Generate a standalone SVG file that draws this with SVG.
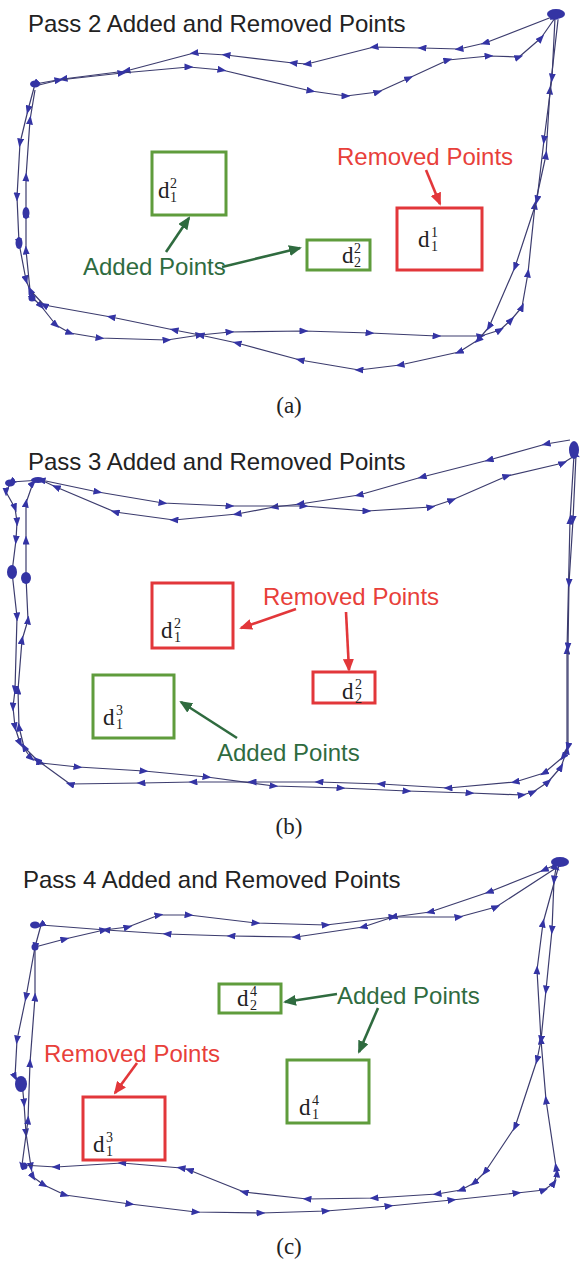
<svg xmlns="http://www.w3.org/2000/svg" width="581" height="1268" viewBox="0 0 581 1268">
<style>
.title{font-family:"Liberation Sans",Arial,sans-serif;font-size:24px;fill:#222}
.lab{font-family:"Liberation Sans",Arial,sans-serif;font-size:24px}
.red{fill:#e8403a}
.grn{fill:#2f6b3f}
.cap{font-family:"Liberation Serif","Times New Roman",serif;font-size:23px;fill:#222;text-anchor:middle}
.d{font-family:"Liberation Serif","Times New Roman",serif;font-size:23px;fill:#222}
.s{font-size:14px}
.trk{fill:none;stroke:#3c3c6e;stroke-width:1.2;stroke-linejoin:round;marker-mid:url(#t)}
.blob{fill:#3434a4}
.gbox{fill:none;stroke:#5f9c3c;stroke-width:3}
.rbox{fill:none;stroke:#e2373a;stroke-width:3}
.ga{stroke:#2f6b3f;stroke-width:2.6;fill:none;marker-end:url(#ag)}
.ra{stroke:#e2373a;stroke-width:2.6;fill:none;marker-end:url(#ar)}
</style>
<defs>
<marker id="t" viewBox="0 0 9 7" refX="4.5" refY="3.5" markerWidth="9" markerHeight="7" orient="auto" markerUnits="userSpaceOnUse"><path d="M0,0 L9,3.5 L0,7 z" fill="#3434a4"/></marker>
<marker id="ag" viewBox="0 0 13 11" refX="11" refY="5.5" markerWidth="13" markerHeight="11" orient="auto" markerUnits="userSpaceOnUse"><path d="M0,0 L13,5.5 L0,11 z" fill="#2f6b3f"/></marker>
<marker id="ar" viewBox="0 0 13 11" refX="11" refY="5.5" markerWidth="13" markerHeight="11" orient="auto" markerUnits="userSpaceOnUse"><path d="M0,0 L13,5.5 L0,11 z" fill="#e2373a"/></marker>
</defs>
<rect width="581" height="1268" fill="#fff"/>

<!-- Panel (a) -->
<g id="panel-a">
<text class="title" x="28" y="32">Pass 2 Added and Removed Points</text>
<g id="tracks-a">
<polyline class="trk" points="557,15 485,43 459,49 422,48 374,47 307,64 293,63 226,55 194,53 126,71 63,79 35,84 28,110 20,143 17,197 19,243 26,280 33,298 41,306 56,325 70,333 100,338 167,340 200,335 230,332 304,331 370,333 437,336 481,336 500,330 511,320 522,307 528,273 535,205 546,155 550,90 558,20"/>
<polyline class="trk" points="35,86 59,80 122,73 189,67 222,70 311,91 346,96 378,92 409,78 448,60 489,56 519,57 541,38 555,18 552,78 544,140 537,200 515,267 489,327 478,340 459,352 400,365 359,370 300,360 237,343 200,335 174,330 111,317 44,305 30,290 26,250 26,213 26,177 30,120 35,90"/>
<ellipse class="blob" cx="556" cy="14" rx="9" ry="5"/>
<ellipse class="blob" cx="35" cy="84" rx="5" ry="3.5"/>
<ellipse class="blob" cx="26" cy="213" rx="3.5" ry="6"/>
<ellipse class="blob" cx="19" cy="243" rx="3.5" ry="6"/>
<ellipse class="blob" cx="32" cy="298" rx="3.5" ry="3.5"/>
</g>
<g id="a-d12"><rect class="gbox" x="152" y="152" width="74" height="63"/><text class="d" x="158" y="198">d<tspan class="s" x="170" y="188">2</tspan><tspan class="s" x="170" y="202">1</tspan></text></g>
<g id="a-d22"><rect class="gbox" x="307" y="240" width="63" height="30"/><text class="d" x="342" y="263">d<tspan class="s" x="354" y="253">2</tspan><tspan class="s" x="354" y="267">2</tspan></text></g>
<g id="a-d11"><rect class="rbox" x="397" y="208" width="85" height="62"/><text class="d" x="418" y="247">d<tspan class="s" x="431" y="237">1</tspan><tspan class="s" x="431" y="251">1</tspan></text></g>
<text class="lab red" x="337" y="165">Removed Points</text>
<text class="lab grn" x="83" y="275">Added Points</text>
<g id="arrows-a">
<line class="ra" x1="426" y1="170" x2="440" y2="204"/>
<line class="ga" x1="166" y1="252" x2="189" y2="218"/>
<line class="ga" x1="222" y1="267" x2="300" y2="248"/>
</g>
<text class="cap" x="289" y="413">(a)</text>
</g>

<!-- Panel (b) -->
<g id="panel-b">
<text class="title" x="28" y="470">Pass 3 Added and Removed Points</text>
<g id="tracks-b">
<polyline class="trk" points="570,440 546,444 489,460 422,477 359,495 300,504 274,507 237,514 174,520 115,512 56,487 41,480 11,482 6,492 15,508 17,522 16,540 12,572 17,617 15,690 13,707 15,727 20,743 31,758 41,763 78,767 144,771 207,777 274,786 341,788 407,791 470,793 522,795 533,792 548,782 561,767 567,750 567,650 570,520 574,455"/>
<polyline class="trk" points="41,480 98,492 163,503 230,506 304,506 367,511 431,507 452,500 507,476 563,463 576,455 573,520 569,583 568,647 568,747 563,757 544,773 515,782 448,788 381,784 319,782 252,782 193,782 141,783 70,784 37,760 24,747 19,727 18,690 22,640 28,620 26,577 26,540 26,503 33,483 41,480"/>
<ellipse class="blob" cx="574" cy="450" rx="5" ry="9"/>
<ellipse class="blob" cx="10" cy="483" rx="5" ry="3.5"/>
<ellipse class="blob" cx="12" cy="572" rx="5" ry="7"/>
<ellipse class="blob" cx="26" cy="578" rx="5" ry="6"/>
<ellipse class="blob" cx="38" cy="480" rx="7" ry="3"/>
</g>
<g id="b-d12"><rect class="rbox" x="152" y="583" width="81" height="65"/><text class="d" x="161" y="638">d<tspan class="s" x="174" y="628">2</tspan><tspan class="s" x="174" y="642">1</tspan></text></g>
<g id="b-d13"><rect class="gbox" x="93" y="675" width="81" height="63"/><text class="d" x="103" y="725">d<tspan class="s" x="116" y="715">3</tspan><tspan class="s" x="116" y="729">1</tspan></text></g>
<g id="b-d22"><rect class="rbox" x="313" y="672" width="62" height="31"/><text class="d" x="342" y="699">d<tspan class="s" x="355" y="689">2</tspan><tspan class="s" x="355" y="703">2</tspan></text></g>
<text class="lab red" x="263" y="605">Removed Points</text>
<text class="lab grn" x="217" y="761">Added Points</text>
<g id="arrows-b">
<line class="ra" x1="296" y1="609" x2="241" y2="628"/>
<line class="ra" x1="346" y1="612" x2="349" y2="670"/>
<line class="ga" x1="237" y1="738" x2="181" y2="702"/>
</g>
<text class="cap" x="289" y="834">(b)</text>
</g>

<!-- Panel (c) -->
<g id="panel-c">
<text class="title" x="23" y="888">Pass 4 Added and Removed Points</text>
<g id="tracks-c">
<polyline class="trk" points="559,863 544,870 489,892 430,912 393,917 363,927 296,937 231,936 167,934 106,930 41,925 35,947 26,997 17,1040 15,1077 22,1082 24,1103 26,1133 31,1167 33,1177 44,1185 65,1195 130,1204 196,1212 261,1213 326,1211 389,1206 452,1200 517,1193 544,1190 554,1183 557,1173 556,1167 546,1100 541,1040 537,970 543,923 559,865"/>
<polyline class="trk" points="35,947 65,939 104,930 128,927 159,915 189,915 256,923 326,925 393,917 459,917 496,907 556,868 554,880 552,930 546,990 541,1040 537,1060 515,1127 485,1172 474,1183 461,1190 437,1194 374,1198 307,1199 244,1192 189,1170 181,1168 122,1163 56,1167 22,1165 28,1120 30,1063 35,997 35,947"/>
<ellipse class="blob" cx="560" cy="862" rx="9" ry="5"/>
<ellipse class="blob" cx="35" cy="925" rx="5" ry="3.5"/>
<ellipse class="blob" cx="35" cy="947" rx="3.5" ry="3.5"/>
<ellipse class="blob" cx="21" cy="1084" rx="6" ry="8"/>
<ellipse class="blob" cx="24" cy="1166" rx="3.5" ry="3.5"/>
</g>
<g id="c-d24"><rect class="gbox" x="219" y="984" width="62" height="29"/><text class="d" x="237" y="1006">d<tspan class="s" x="250" y="996">4</tspan><tspan class="s" x="250" y="1010">2</tspan></text></g>
<g id="c-d14"><rect class="gbox" x="287" y="1060" width="82" height="63"/><text class="d" x="299" y="1115">d<tspan class="s" x="312" y="1105">4</tspan><tspan class="s" x="312" y="1119">1</tspan></text></g>
<g id="c-d13"><rect class="rbox" x="83" y="1097" width="82" height="63"/><text class="d" x="93" y="1152">d<tspan class="s" x="106" y="1142">3</tspan><tspan class="s" x="106" y="1156">1</tspan></text></g>
<text class="lab grn" x="337" y="1004">Added Points</text>
<text class="lab red" x="44" y="1062">Removed Points</text>
<g id="arrows-c">
<line class="ga" x1="337" y1="994" x2="285" y2="1002"/>
<line class="ga" x1="378" y1="1008" x2="359" y2="1052"/>
<line class="ra" x1="137" y1="1063" x2="115" y2="1093"/>
</g>
<text class="cap" x="289" y="1254">(c)</text>
</g>
</svg>
